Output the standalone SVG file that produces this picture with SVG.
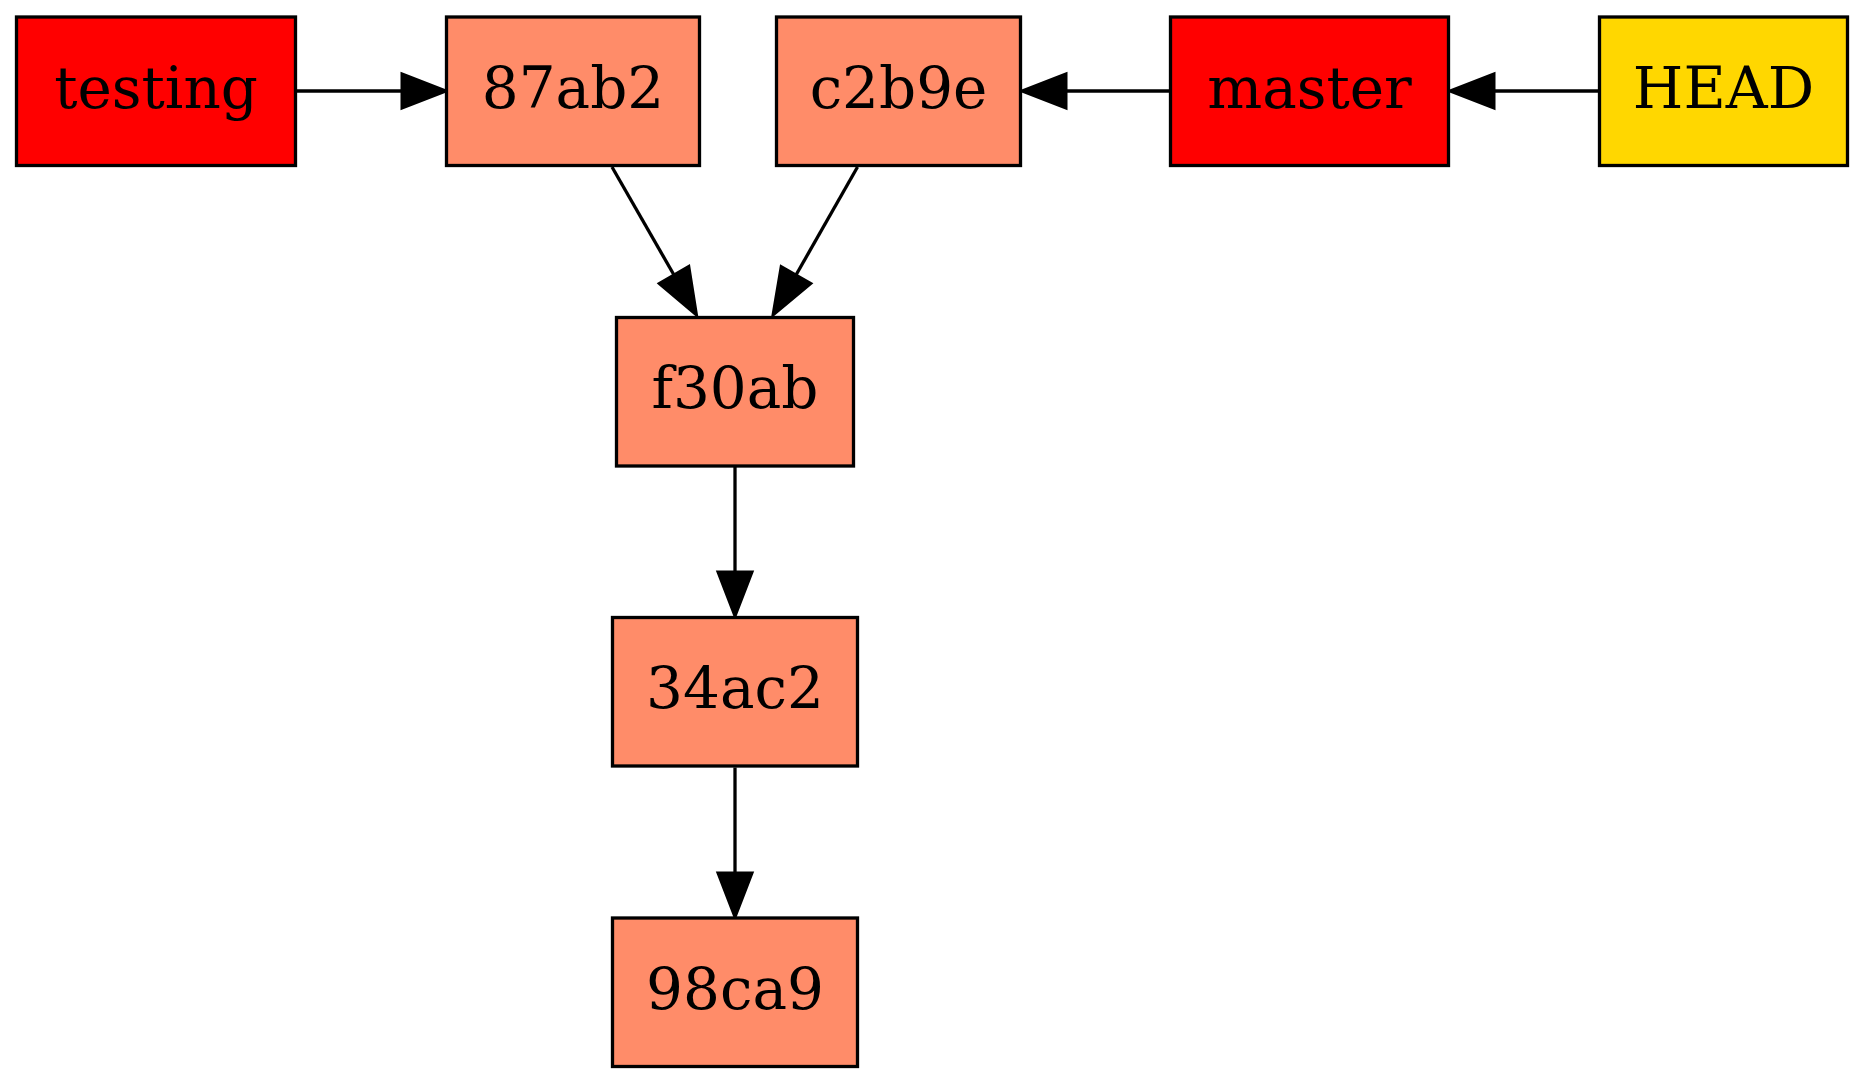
<svg xmlns="http://www.w3.org/2000/svg" width="1865" height="1083" viewBox="0 0 1865 1083">
<defs>
<style>
.n rect{stroke:#000;stroke-width:3.3}
.red{fill:#ff0000}
.sal{fill:#ff8c69}
.gold{fill:#ffd700}
.n text{font-family:"DejaVu Serif","Liberation Serif",serif;font-size:58px;fill:#000;text-anchor:middle}
.e line{stroke:#000;stroke-width:3.3}
.e polygon{fill:#000;stroke:#000;stroke-width:3}
</style>
</defs>
<rect width="1865" height="1083" fill="#fff"/>
<g id="connectors" class="e">
<line x1="297" y1="91" x2="402" y2="91"/>
<polygon points="402,74 446,91 402,108"/>
<line x1="1169" y1="91" x2="1066" y2="91"/>
<polygon points="1066,74 1022,91 1066,108"/>
<line x1="1598" y1="91" x2="1494" y2="91"/>
<polygon points="1494,74 1450,91 1494,108"/>
<line x1="612" y1="167" x2="674" y2="275"/>
<polygon points="659.3,283.5 696.5,315 688.8,266.5"/>
<line x1="857.5" y1="167" x2="796" y2="275"/>
<polygon points="781.2,266.5 773,315 810.8,283.5"/>
<line x1="735" y1="467" x2="735" y2="572"/>
<polygon points="718,572 735,616 752,572"/>
<line x1="735" y1="767.5" x2="735" y2="873"/>
<polygon points="718,873 735,917 752,873"/>
</g>
<g id="node-testing" class="n"><rect class="red" x="16.5" y="17" width="279" height="148.5"/><text x="156" y="108">testing</text></g>
<g id="node-87ab2" class="n"><rect class="sal" x="446.5" y="17" width="253" height="148.5"/><text x="573" y="108">87ab2</text></g>
<g id="node-c2b9e" class="n"><rect class="sal" x="776.5" y="17" width="244" height="148.5"/><text x="898.5" y="108">c2b9e</text></g>
<g id="node-master" class="n"><rect class="red" x="1170.5" y="17" width="278" height="148.5"/><text x="1309.5" y="108">master</text></g>
<g id="node-HEAD" class="n"><rect class="gold" x="1599.5" y="17" width="248" height="148.5"/><text x="1723.5" y="108">HEAD</text></g>
<g id="node-f30ab" class="n"><rect class="sal" x="616.5" y="317.5" width="237" height="148.5"/><text x="735" y="408">f30ab</text></g>
<g id="node-34ac2" class="n"><rect class="sal" x="612.5" y="617.5" width="245" height="148.5"/><text x="735" y="708">34ac2</text></g>
<g id="node-98ca9" class="n"><rect class="sal" x="612.5" y="918" width="245" height="148.5"/><text x="735" y="1009">98ca9</text></g>
</svg>
